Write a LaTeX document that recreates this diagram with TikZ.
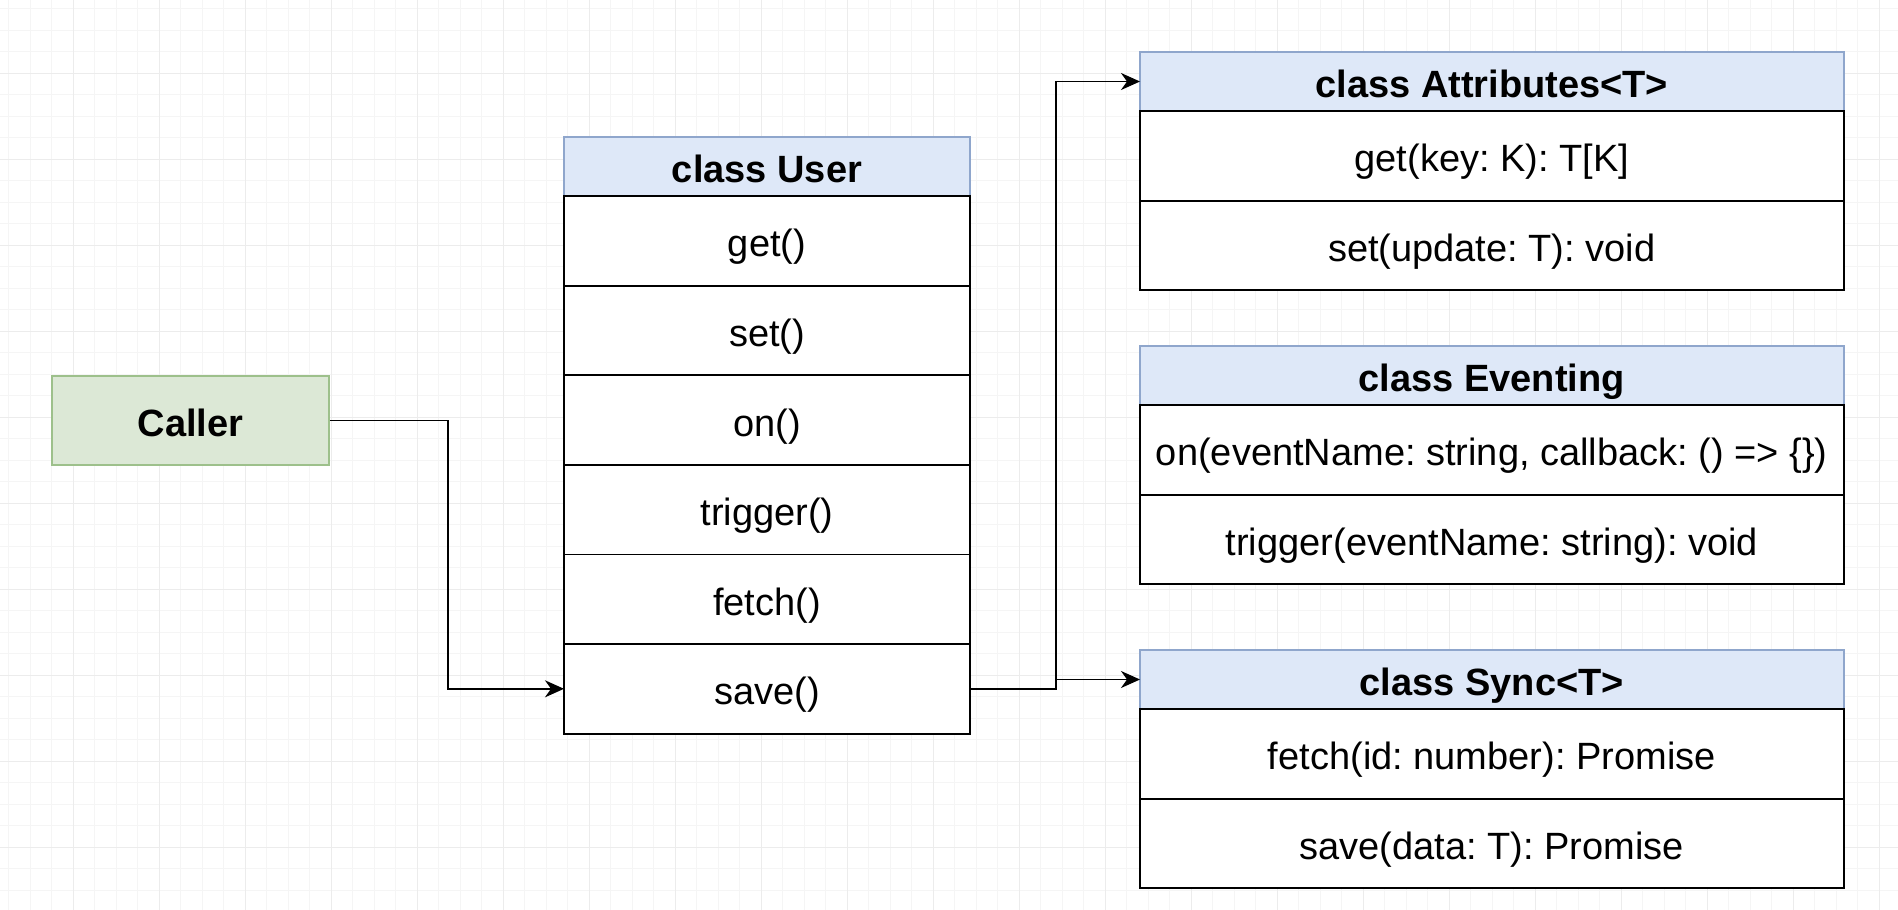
\documentclass[tikz,border=0pt]{standalone}
\usepackage{fontspec}
\setmainfont{Liberation Sans}
\usetikzlibrary{arrows.meta}
\frenchspacing
\definecolor{hdrfill}{HTML}{DEE8F8}
\definecolor{hdrdraw}{HTML}{8FA6CC}
\definecolor{callfill}{HTML}{DCE8D6}
\definecolor{calldraw}{HTML}{9DC08B}
\definecolor{gridminor}{HTML}{F5F5F5}
\definecolor{gridmajor}{HTML}{ECECEC}
\begin{document}
\begin{tikzpicture}[x=1pt,y=-1pt,
  rowbox/.style={draw=black, line width=1.8pt, fill=white, inner sep=0pt, outer sep=0pt,
    minimum height=89.6pt, text height=35pt, text depth=3pt, font=\fontsize{38}{44}\selectfont},
  ubox/.style={rowbox, minimum width=406pt},
  rbox/.style={rowbox, minimum width=703.6pt},
  hdr/.style={fill=hdrfill, draw=hdrdraw, minimum height=59pt, font=\fontsize{38}{44}\selectfont\bfseries},
  conn/.style={draw=black, line width=1.8pt, -{Stealth[length=19pt,width=17pt,inset=6pt]}}
]
\useasboundingbox (0,0) rectangle (1898,910);
\fill[white] (0,0) rectangle (1898,910);
% grid
\foreach \i in {0,...,89} {
  \draw[gridminor, line width=0.8pt] (8.5+\i*21.5,0) -- (8.5+\i*21.5,910);
}
\foreach \i in {0,...,43} {
  \draw[gridminor, line width=0.8pt] (0,8.5+\i*21.5) -- (1898,8.5+\i*21.5);
}
\foreach \i in {0,...,22} {
  \draw[gridmajor, line width=0.9pt] (73+\i*86-86,0) -- (73+\i*86-86,910);
}
\foreach \i in {0,...,11} {
  \draw[gridmajor, line width=0.9pt] (0,73+\i*86-86) -- (1898,73+\i*86-86);
}

% Caller
\node[draw=calldraw, fill=callfill, line width=1.6pt, minimum width=277pt, minimum height=89pt,
  inner sep=0pt, text height=35pt, text depth=3pt,
  font=\fontsize{38}{44}\selectfont\bfseries] (caller) at (190.5,420.5) {Caller};

% class User
\node[ubox, hdr] (user) at (767,166.5) {class User};
\node[ubox] (u1) at (767,240.8) {get()};
\node[ubox] (u2) at (767,330.4) {set()};
\node[ubox] (u3) at (767,420.0) {on()};
\node[ubox] (u4) at (767,509.6) {trigger()};
\node[ubox] (u5) at (767,599.2) {fetch()};
\node[ubox] (u6) at (767,688.8) {save()};

% class Attributes
\node[rbox, hdr] (attr) at (1491.8,81.5) {class Attributes<T>};
\node[rbox] (a1) at (1491.8,155.8) {get(key: K): T[K]};
\node[rbox] (a2) at (1491.8,245.4) {set(update: T): void};

% class Eventing
\node[rbox, hdr] (evt) at (1491.8,375.5) {class Eventing};
\node[rbox] (e1) at (1491.8,449.8) {on(eventName: string, callback: () => \{\})};
\node[rbox] (e2) at (1491.8,539.4) {trigger(eventName: string): void};

% class Sync
\node[rbox, hdr] (sync) at (1491.8,679.5) {class Sync<T>};
\node[rbox] (s1) at (1491.8,753.8) {fetch(id: number): Promise};
\node[rbox] (s2) at (1491.8,843.4) {save(data: T): Promise};

% connectors
\draw[conn] (caller.east) -- ++(118,0) |- (u6.west);
\draw[conn] (u6.east) -- ++(85.6,0) |- (attr.west);
\draw[conn] (u6.east) -- ++(85.6,0) |- (sync.west);
\end{tikzpicture}
\end{document}
